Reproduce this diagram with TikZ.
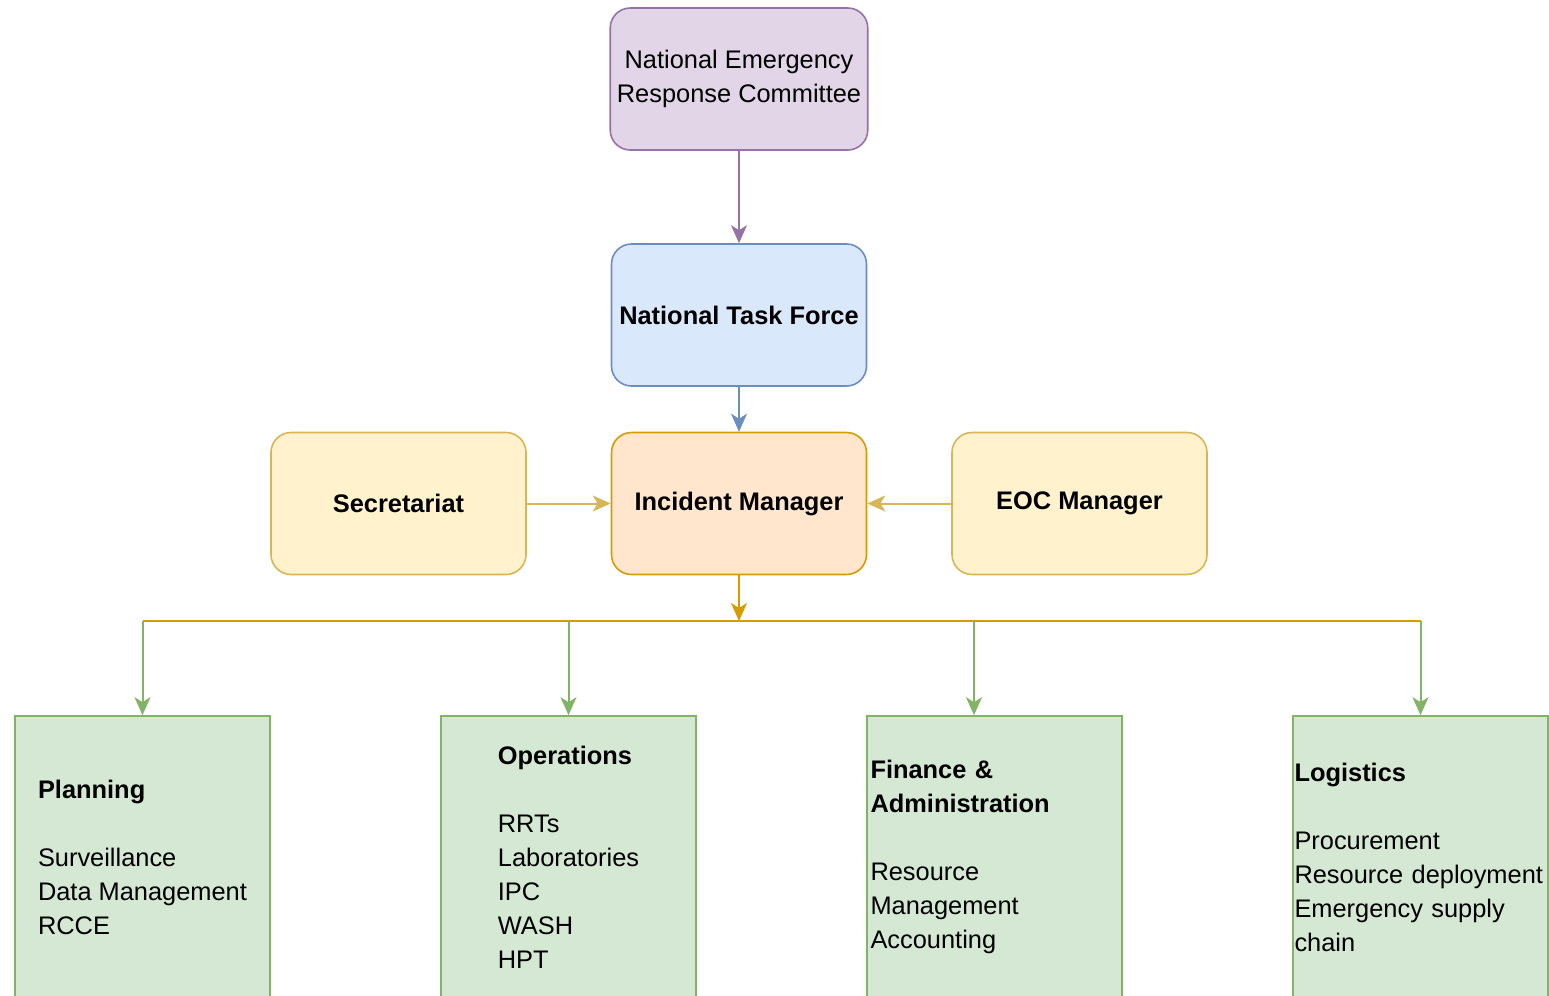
\documentclass[tikz,border=0pt]{standalone}
\usepackage{fontspec}
\setmainfont{Liberation Sans}
\usetikzlibrary{arrows.meta}
\definecolor{nercFill}{HTML}{E1D5E7}
\definecolor{nercLine}{HTML}{9673A6}
\definecolor{ntfFill}{HTML}{DAE8FC}
\definecolor{ntfLine}{HTML}{6C8EBF}
\definecolor{imFill}{HTML}{FFE6CC}
\definecolor{imLine}{HTML}{D79B00}
\definecolor{staffFill}{HTML}{FFF2CC}
\definecolor{staffLine}{HTML}{D6B656}
\definecolor{unitFill}{HTML}{D5E8D4}
\definecolor{unitLine}{HTML}{82B366}
\begin{document}
\begin{tikzpicture}[
            x=0.5pt, y=-0.5pt,
            font=\fontsize{12.7pt}{17pt}\selectfont,
            topbox/.style={rectangle, rounded corners=10pt, draw, line width=0.8pt,
                minimum width=127.5pt, minimum height=71pt, align=center},
            unitbox/.style={rectangle, draw=unitLine, fill=unitFill, line width=0.8pt,
                minimum width=127.5pt, minimum height=141pt, align=left},
            link/.style={line width=1pt, -{Stealth[length=9pt,width=8pt,inset=2.5pt]}}
        ]
        \useasboundingbox (0,0) rectangle (1549,996);
        \node[topbox, draw=nercLine, fill=nercFill] (nerc) at (739,79) {National Emergency\\Response Committee};
        \node[topbox, draw=ntfLine, fill=ntfFill] (ntf) at (739,315) {\textbf{National Task Force}};
        \node[topbox, draw=imLine, fill=imFill] (im) at (739,503.5) {\textbf{Incident Manager}};
        \node[topbox, draw=staffLine, fill=staffFill] (sec) at (398.5,503.5) {\textbf{Secretariat}};
        \node[topbox, draw=staffLine, fill=staffFill] (eoc) at (1079.5,503.5) {\textbf{EOC Manager}};
        \node[unitbox] (plan) at (142.5,857) {\textbf{Planning}\\[17pt]Surveillance\\Data Management\\RCCE};
        \node[unitbox] (ops) at (568.5,857) {\textbf{Operations}\\[17pt]RRTs\\Laboratories\\IPC\\WASH\\HPT};
        \node[unitbox, text width=124pt, inner xsep=1.75pt] (fin) at (994.5,857)
            {\textbf{Finance \&}\\\textbf{Administration}\\[17pt]Resource\\Management\\Accounting};
        \node[unitbox, text width=126pt, inner xsep=0.75pt] (log) at (1420.5,857)
            {\textbf{Logistics}\\[17pt]Procurement\\Resource deployment\\Emergency supply\\chain};
        \coordinate (bus) at (739,621);
        \coordinate (busP) at (142.5,621);
        \coordinate (busO) at (568.5,621);
        \coordinate (busF) at (974,621);
        \coordinate (busL) at (1420.5,621);
        \draw[link, nercLine] (nerc) -- (ntf);
        \draw[link, ntfLine] (ntf) -- (im);
        \draw[link, staffLine] (sec) -- (im);
        \draw[link, staffLine] (eoc) -- (im);
        \draw[link, imLine] (im) -- (bus);
        \draw[imLine, line width=1pt] (busP) -- (busL);
        \draw[link, unitLine] (busP) -- (plan);
        \draw[link, unitLine] (busO) -- (ops);
        \draw[link, unitLine] (busF) -- (busF |- fin.north);
        \draw[link, unitLine] (busL) -- (log);
    \end{tikzpicture}
\end{document}
